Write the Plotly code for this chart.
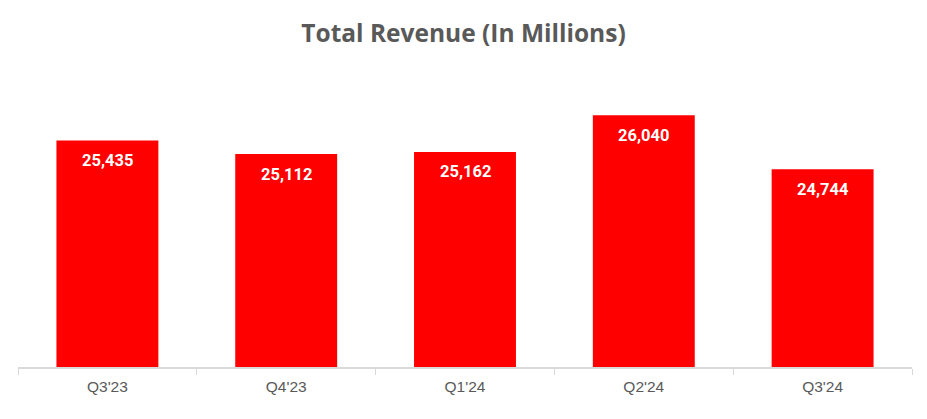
import plotly.graph_objects as go

quarters = ["Q3'23", "Q4'23", "Q1'24", "Q2'24", "Q3'24"]
revenue = [25435, 25112, 25162, 26040, 24744]

fig = go.Figure()
fig.add_trace(go.Bar(
    x=quarters, y=revenue,
    marker=dict(color="#FF0000", line=dict(width=0)),
    width=0.57,
    hoverinfo="skip",
))

for q, v in zip(quarters, revenue):
    fig.add_annotation(
        x=q, y=v, text=f"{v:,}", showarrow=False,
        yshift=-20, yanchor="middle",
        font=dict(family="Roboto, Arial, sans-serif", size=16.5, color="white", weight="bold"),
    )

fig.update_layout(
    width=927, height=419,
    margin=dict(l=18, r=15, t=67, b=52),
    plot_bgcolor="white", paper_bgcolor="white",
    showlegend=False,
    title=dict(
        text="<b>Total Revenue (In Millions)</b>",
        x=0.5, xanchor="center", y=1 - 33 / 419, yanchor="middle",
        font=dict(family="Open Sans, sans-serif", size=24.5, color="#595959"),
    ),
    xaxis=dict(
        showline=True, linecolor="#D9D9D9", linewidth=1.5,
        ticks="outside", tickson="boundaries", ticklen=6, tickcolor="#D9D9D9", tickwidth=1,
        ticklabelstandoff=5,
        tickfont=dict(family="Liberation Sans, Arial, sans-serif", size=15.5, color="#595959"),
        showgrid=False, zeroline=False, fixedrange=True,
    ),
    yaxis=dict(visible=False, range=[20000, 27200], showgrid=False, zeroline=False, fixedrange=True),
)

fig.write_html("out.html")
